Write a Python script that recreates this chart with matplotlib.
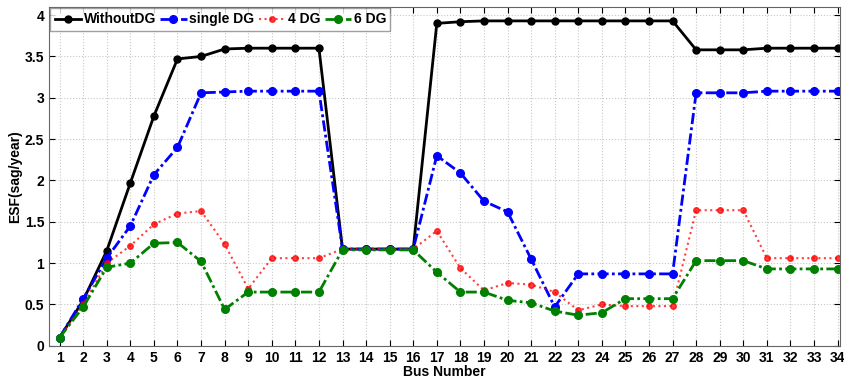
import matplotlib
matplotlib.use('Agg')
import matplotlib.pyplot as plt
import numpy as np

plt.rcParams['font.family'] = ['Liberation Sans Narrow', 'Liberation Sans', 'DejaVu Sans']
plt.rcParams['font.weight'] = 'bold'

# Données
bus = np.arange(1, 35)
without_dg = [0.1, 0.55, 1.15, 1.97, 2.78, 3.47, 3.5, 3.59, 3.6, 3.6, 3.6, 3.6,
              1.17, 1.17, 1.17, 1.17, 3.9, 3.92, 3.93, 3.93, 3.93, 3.93, 3.93,
              3.93, 3.93, 3.93, 3.93, 3.58, 3.58, 3.58, 3.6, 3.6, 3.6, 3.6]
single_dg = [0.1, 0.57, 1.06, 1.45, 2.07, 2.4, 3.06, 3.07, 3.08, 3.08, 3.08, 3.08,
             1.17, 1.17, 1.17, 1.17, 2.3, 2.09, 1.75, 1.62, 1.05, 0.47, 0.87,
             0.87, 0.87, 0.87, 0.87, 3.06, 3.06, 3.06, 3.08, 3.08, 3.08, 3.08]
dg4 = [0.1, 0.5, 1.0, 1.21, 1.47, 1.6, 1.63, 1.23, 0.69, 1.06, 1.06, 1.06,
       1.17, 1.17, 1.17, 1.17, 1.39, 0.94, 0.67, 0.76, 0.74, 0.65, 0.43,
       0.5, 0.48, 0.48, 0.48, 1.64, 1.64, 1.64, 1.06, 1.06, 1.06, 1.06]
dg6 = [0.1, 0.47, 0.95, 1.0, 1.24, 1.25, 1.02, 0.44, 0.65, 0.65, 0.65, 0.65,
       1.16, 1.16, 1.16, 1.16, 0.89, 0.65, 0.65, 0.55, 0.52, 0.42, 0.37,
       0.4, 0.57, 0.57, 0.57, 1.03, 1.03, 1.03, 0.93, 0.93, 0.93, 0.93]

fig = plt.figure(figsize=(8.45, 3.8), dpi=100)
ax = fig.add_axes([0.058, 0.09, 0.936, 0.892])

dashdot = (0, (4, 1.2, 1, 1.2))
ax.plot(bus, without_dg, color='black', lw=2, marker='o', ms=5, label='WithoutDG')
ax.plot(bus, single_dg, color='blue', lw=2, ls=dashdot, marker='o', ms=5.5, label='single DG')
ax.plot(bus, dg4, color='red', lw=1.5, ls=':', marker='o', ms=4, alpha=0.75, label='4 DG')
ax.plot(bus, dg6, color='green', lw=2, ls=dashdot, marker='o', ms=5.5, label='6 DG')

ax.set_xlim(0.55, 34.1)
ax.set_ylim(0, 4.1)
ax.set_xticks(bus)
ax.set_yticks(np.arange(0, 4.01, 0.5))
ax.set_yticklabels(['0', '0.5', '1', '1.5', '2', '2.5', '3', '3.5', '4'])
ax.tick_params(labelsize=10, direction='in', length=4, top=True, right=True)
ax.grid(True, ls=':', color='#c8c8c8', lw=0.8)
for s in ax.spines.values():
    s.set_color('#666666')

ax.set_xlabel('Bus Number', fontsize=10, fontweight='bold', labelpad=0)
ax.set_ylabel('ESF(sag/year)', fontsize=10, fontweight='bold', labelpad=2)

ax.legend(loc='upper left', ncol=4, fontsize=10, frameon=True, fancybox=False,
          edgecolor='#888888', borderaxespad=0.1, handlelength=1.9, handletextpad=0.2,
          columnspacing=0.3, borderpad=0.3)

plt.savefig('out.png', dpi=100)
